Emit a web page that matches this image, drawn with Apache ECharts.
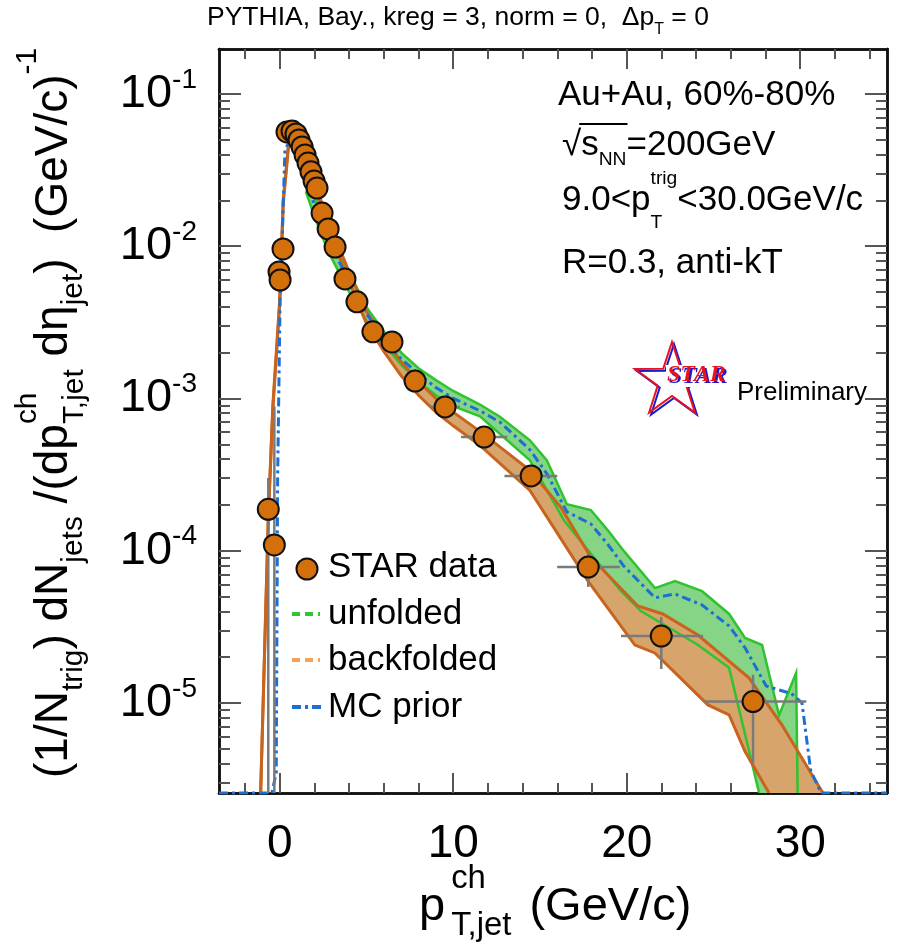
<!DOCTYPE html>
<html><head><meta charset="utf-8">
<script src="https://cdn.jsdelivr.net/npm/echarts@6/dist/echarts.min.js"></script>
<style>html,body{margin:0;padding:0;background:#fff}#c{width:901px;height:948px}</style>
</head><body><div id="c"></div><script>
// ---------------- data ----------------
var YMIN = 2.56e-6, YMAX = 0.1975, XMIN = -3.5, XMAX = 35;
// STAR data points
var starX = [-0.66,-0.31,-0.04,0.02,0.19,0.42,0.71,0.94,1.11,1.29,1.46,1.63,1.80,1.98,2.15,2.44,2.79,3.19,3.76,4.45,5.37,6.47,7.80,9.53,11.78,14.49,17.78,21.99,27.28];
var starY = [1.87e-4,1.09e-4,6.78e-3,6.0e-3,9.6e-3,5.63e-2,5.71e-2,5.46e-2,4.99e-2,4.49e-2,3.98e-2,3.52e-2,3.08e-2,2.68e-2,2.41e-2,1.65e-2,1.30e-2,9.88e-3,6.10e-3,4.31e-3,2.74e-3,2.35e-3,1.30e-3,8.8e-4,5.58e-4,3.10e-4,7.8e-5,2.75e-5,1.02e-5];
// error bars
var errX   = [-0.66,-0.31,7.80,9.53,11.78,14.49,17.78,21.99,27.28];
var errY   = [1.87e-4,1.09e-4,1.30e-3,8.8e-4,5.58e-4,3.10e-4,7.8e-5,2.75e-5,1.02e-5];
var errXlo = [-0.66,-0.31,7.15,8.68,10.45,12.95,15.99,19.67,24.5];
var errXhi = [-0.66,-0.31,8.45,10.38,13.11,16.0,19.6,24.4,30.35];
var errYlo = [YMIN,YMIN,1.30e-3,8.8e-4,5.58e-4,2.9e-4,5.78e-5,1.67e-5,4.03e-6];
var errYhi = [3.0e-4,8.9e-4,1.30e-3,8.8e-4,5.58e-4,3.3e-4,9.66e-5,3.67e-5,1.53e-5];
// backfolded band
var bfUpX = [-1.1,-0.66,-0.4,0,0.2,0.5,0.8,1.2,1.6,2,2.5,3,4,5,6,7,8,9,10,11.54,14.42,16.2,17.93,20.64,22.08,24.1,27.04,28.94,31.31];
var bfUp  = [YMIN,1.66e-4,8.91e-4,4.47e-3,2.0e-2,4.68e-2,5.37e-2,4.68e-2,3.55e-2,2.69e-2,1.82e-2,1.29e-2,6.76e-3,3.72e-3,2.51e-3,1.74e-3,1.29e-3,1.0e-3,8.13e-4,6.08e-4,3.37e-4,1.93e-4,9.06e-5,4.33e-5,3.84e-5,2.79e-5,1.46e-5,7.18e-6,YMIN];
var bfLoX = [-1.1,-0.66,-0.4,0,0.2,0.5,0.8,1.2,1.6,2,2.5,3,4,5,6,7,8,9,10,11.54,14.42,17.77,20.47,21.62,24.68,25.9,26.82,28.2];
var bfLo  = [YMIN,1.58e-4,8.32e-4,4.17e-3,1.9e-2,4.37e-2,5.01e-2,4.37e-2,3.31e-2,2.45e-2,1.62e-2,1.12e-2,5.89e-3,3.09e-3,2.04e-3,1.41e-3,1.05e-3,8.13e-4,6.61e-4,4.92e-4,2.49e-4,6.31e-5,2.4e-5,2.13e-5,9.7e-6,8.34e-6,4.79e-6,YMIN];
// unfolded band
var ufUpX = [1.5,2,2.5,3,4,5,6,7,8,9,10,11.54,12.69,14.42,15.4,16.55,17.93,18.91,19.84,21.63,22.78,24.34,25.9,26.82,27.8,28.78,29.76,29.85];
var ufUp  = [2.82e-2,2.09e-2,1.51e-2,1.12e-2,6.76e-3,3.98e-3,2.75e-3,2.0e-3,1.58e-3,1.32e-3,1.12e-3,9.12e-4,7.59e-4,5.31e-4,3.92e-4,2.02e-4,1.85e-4,1.36e-4,9.93e-5,5.68e-5,6.31e-5,5.42e-5,3.84e-5,2.67e-5,2.4e-5,8.3e-6,1.57e-5,YMIN];
var ufLoX = [1.5,2,2.5,3,4,5,6,7,8,9,10,11.54,14.42,16.39,19.67,20.82,24.11,25.9,27.63];
var ufLo  = [2.29e-2,1.58e-2,1.12e-2,8.32e-3,5.01e-3,3.24e-3,2.29e-3,1.66e-3,1.29e-3,1.05e-3,8.91e-4,7.62e-4,3.92e-4,1.58e-4,5.42e-5,4.01e-5,2.4e-5,1.7e-5,YMIN];
// MC prior
var mcX = [-3.5,-0.45,-0.2,-0.12,0.02,0.13,0.3,0.6,1.0,1.5,2,2.5,3,4,5,6,7,8,9,10,11.54,12.69,14.42,15.4,16.55,17.93,18.91,19.84,21.63,22.78,24.34,25.9,26.82,28.04,29.5,30.1,30.6,31.2,35];
var mcY = [YMIN,YMIN,3.5e-6,3.0e-4,4.4e-3,9.9e-3,4.3e-2,5.0e-2,4.4e-2,2.9e-2,1.85e-2,1.3e-2,9.8e-3,5.9e-3,3.6e-3,2.5e-3,1.82e-3,1.45e-3,1.18e-3,1.0e-3,8.3e-4,7.0e-4,4.6e-4,3.2e-4,1.8e-4,1.5e-4,1.1e-4,7.9e-5,4.9e-5,5.2e-5,4.4e-5,3.2e-5,2.3e-5,1.29e-5,1.15e-5,1.0e-5,3.6e-6,YMIN,YMIN];
// ticks
var xMajor = [0,10,20,30];
var xMinor = [-2,2,4,6,8,12,14,16,18,22,24,26,28,32,34];
var yMajor = [1e-5,1e-4,1e-3,1e-2,1e-1];
var yMinor = [];
for (var e = -6; e <= -1; e++) for (var k = 2; k <= 9; k++) { var v = k * Math.pow(10, e); if (v > YMIN && v < YMAX) yMinor.push(v); }

// ---------------- helpers ----------------
var FONT = '"Liberation Sans", Arial, Helvetica, sans-serif';
var mctx = document.createElement('canvas').getContext('2d');
function tw(t, s) { mctx.font = s + 'px ' + FONT; return mctx.measureText(t).width; }
function tx(t, x, y, s, fill, font) {
  return {type:'text', x:x, y:y, silent:true, style:{text:t, font: font || (s + 'px ' + FONT), fill: fill || '#000',
    align:'left', verticalAlign:'middle', textAlign:'left', textVerticalAlign:'middle'}};
}
// parts: {t} main text, {sup, sub, supDy, subDy, r, before, after}
function layout(parts, S) {
  var x = 0, ch = [];
  parts.forEach(function (p) {
    if (p.t !== undefined) { ch.push(tx(p.t, x, 0, S)); x += tw(p.t, S); }
    else {
      var r = p.r || 0.58, s = S * r, w = 0;
      x += (p.before || 0);
      if (p.sup) { var d = (p.supDy !== undefined ? p.supDy : -0.75); ch.push(tx(p.sup, x, 0.35*S + d*S - 0.35*s, s)); w = Math.max(w, tw(p.sup, s)); }
      if (p.sub) { var d2 = (p.subDy !== undefined ? p.subDy : 0.3); ch.push(tx(p.sub, x, 0.35*S + d2*S - 0.35*s, s)); w = Math.max(w, tw(p.sub, s)); }
      x += w + (p.after || 0);
    }
  });
  return {children: ch, width: x};
}
function grp(parts, S, x, y, rot) {
  var L = layout(parts, S);
  return {type:'group', x:x, y:y, rotation: rot || 0, children: L.children, silent:true};
}

// ---------------- series renderers ----------------
function bandSeries(name, xu, yu, xl, yl, fill, stroke, lw, zFill, zLine) {
  return [{
    type:'custom', name:name, coordinateSystem:'cartesian2d', clip:true, z:zFill, silent:true,
    data:[[xu[0], yu[0]]],
    renderItem:function (params, api) {
      var pts = [], i;
      for (i = 0; i < xu.length; i++) pts.push(api.coord([xu[i], yu[i]]));
      for (i = xl.length - 1; i >= 0; i--) pts.push(api.coord([xl[i], yl[i]]));
      return {type:'polygon', shape:{points:pts}, style:{fill:fill, stroke:null}};
    }
  }, {
    type:'custom', name:name + ' edges', coordinateSystem:'cartesian2d', clip:true, z:zLine, silent:true,
    data:[[xu[0], yu[0]]],
    renderItem:function (params, api) {
      var up = [], lo = [], i;
      for (i = 0; i < xu.length; i++) up.push(api.coord([xu[i], yu[i]]));
      for (i = 0; i < xl.length; i++) lo.push(api.coord([xl[i], yl[i]]));
      return {type:'group', children:[
        {type:'polyline', shape:{points:up}, style:{stroke:stroke, lineWidth:lw, fill:null}},
        {type:'polyline', shape:{points:lo}, style:{stroke:stroke, lineWidth:lw, fill:null}}
      ]};
    }
  }];
}

var errData = errX.map(function (x, i) { return [x, errY[i], errXlo[i], errXhi[i], errYlo[i], errYhi[i]]; });
var starData = starX.map(function (x, i) { return [x, starY[i]]; });
var mcData = mcX.map(function (x, i) { return [x, mcY[i]]; });

var series = [];
series = series.concat(bandSeries('unfolded', ufUpX, ufUp, ufLoX, ufLo, '#86d486', '#2fc42f', 2.5, 2, 5));
series = series.concat(bandSeries('backfolded', bfUpX, bfUp, bfLoX, bfLo, '#d7a56c', '#c8641e', 3, 3, 6));
series.push({
  type:'line', name:'MC prior', data:mcData, symbol:'none', z:7, silent:true,
  lineStyle:{color:'#1d6fd2', width:3, type:[9,4,3,4]}
});
series.push({
  type:'custom', name:'errors', coordinateSystem:'cartesian2d', z:8, silent:true, data:errData,
  renderItem:function (params, api) {
    var c = api.coord([api.value(0), api.value(1)]);
    var xl = api.coord([api.value(2), api.value(1)]), xh = api.coord([api.value(3), api.value(1)]);
    var yl = api.coord([api.value(0), api.value(4)]), yh = api.coord([api.value(0), api.value(5)]);
    var st = {stroke:'#7a7a7a', lineWidth:2.5};
    return {type:'group', children:[
      {type:'line', shape:{x1:xl[0], y1:c[1], x2:xh[0], y2:c[1]}, style:st},
      {type:'line', shape:{x1:c[0], y1:yl[1], x2:c[0], y2:yh[1]}, style:st}
    ]};
  }
});
series.push({
  type:'scatter', name:'STAR data', data:starData, symbol:'circle', symbolSize:21, z:9, silent:true,
  itemStyle:{color:'#d4700c', borderColor:'#111', borderWidth:2, opacity:1}
});

// ---------------- axes ----------------
function xAx(pos, vals, len, labels) {
  return {type:'value', min:XMIN, max:XMAX, position:pos, splitLine:{show:false},
    axisLine:{show:true, onZero:false, lineStyle:{color:'#111', width:2.5}},
    axisTick:{show:true, inside:true, length:len, customValues:vals, lineStyle:{color:'#555', width:2}},
    axisLabel:labels ? {show:true, customValues:vals, fontSize:46, fontFamily:FONT, color:'#000', margin:28} : {show:false}};
}
function yAx(pos, vals, len, labels) {
  return {type:'log', logBase:10, min:YMIN, max:YMAX, position:pos, splitLine:{show:false},
    axisLine:{show:true, onZero:false, lineStyle:{color:'#111', width:2.5}},
    axisTick:{show:true, inside:true, length:len, customValues:vals, lineStyle:{color:'#555', width:2}},
    axisLabel:labels ? {show:true, customValues:vals, margin:22,
      formatter:function (v) { var e = Math.round(Math.log(v) / Math.LN10); return '{b|10}{s|' + e + '}'; },
      rich:{b:{fontSize:47, fontFamily:FONT, color:'#000', lineHeight:56}, s:{fontSize:28, fontFamily:FONT, color:'#000', verticalAlign:'top'}}} : {show:false}};
}

// ---------------- graphics (texts, legend, logo) ----------------
var g = [];
g.push(grp([{t:'PYTHIA, Bay., kreg = 3, norm = 0,  \u0394p'}, {sub:'T', subDy:0.3, r:0.6}, {t:' = 0'}], 26.5, 207, 18));
g.push(grp([{t:'Au+Au, 60%-80%'}], 35, 558, 95));
// sqrt(s_NN)
(function () {
  var S = 35, x0 = 562, y0 = 145;
  var L = layout([{t:'\u221A'}, {t:'s'}, {sub:'NN', subDy:0.25, r:0.55}, {t:'=200GeV'}], S);
  var wR = tw('\u221A', S), wS = tw('s', S), wN = tw('NN', S * 0.55);
  g.push({type:'group', x:x0, y:y0, silent:true, children:L.children.concat([
    {type:'line', shape:{x1:wR - 2, y1:-0.6 * S, x2:wR + wS + wN + 1, y2:-0.6 * S}, style:{stroke:'#000', lineWidth:2}}
  ])});
})();
g.push(grp([{t:'9.0<p'}, {sup:'trig', sub:'T', supDy:-0.78, subDy:0.5, r:0.55}, {t:'<30.0GeV/c'}], 35, 562, 200));
g.push(grp([{t:'R=0.3, anti-kT'}], 35, 562, 263));
// axis titles
g.push(grp([{t:'p'}, {sup:'ch', sub:'T,jet', supDy:-0.7, subDy:0.3, r:0.7, before:6, after:18}, {t:'(GeV/c)'}], 47, 419, 907));
g.push(grp([{t:'(1/N'}, {sub:'trig', subDy:0.3, r:0.65}, {t:') dN'}, {sub:'jets', subDy:0.3, r:0.65}, {t:' /(dp'},
  {sup:'ch', sub:'T,jet', supDy:-0.7, subDy:0.32, r:0.65}, {t:' d\u03B7'}, {sub:'jet', subDy:0.3, r:0.65},
  {t:')  (GeV/c)'}, {sup:'-1', supDy:-0.7, r:0.65}], 46, 54, 778, Math.PI / 2));
// legend
g.push({type:'circle', shape:{cx:307, cy:569, r:10.5}, style:{fill:'#d4700c', stroke:'#111', lineWidth:2}, silent:true});
g.push({type:'line', shape:{x1:292, y1:614, x2:320, y2:614}, style:{stroke:'#33c433', lineWidth:4, lineDash:[8,5]}, silent:true});
g.push({type:'line', shape:{x1:292, y1:660, x2:320, y2:660}, style:{stroke:'#f2a55a', lineWidth:4, lineDash:[8,5]}, silent:true});
g.push({type:'line', shape:{x1:292, y1:707, x2:322, y2:707}, style:{stroke:'#1d6fd2', lineWidth:4, lineDash:[9,4,3,4]}, silent:true});
g.push(tx('STAR data', 328, 567, 35));
g.push(tx('unfolded', 328, 614, 35));
g.push(tx('backfolded', 328, 660, 35));
g.push(tx('MC prior', 328, 707, 35));
// STAR logo
(function () {
  var cx = 672, cy = 381, R = 39, r = 15, pts = [];
  for (var i = 0; i < 10; i++) {
    var a = -Math.PI / 2 + i * Math.PI / 5, rr = (i % 2 === 0) ? R : r;
    pts.push([cx + rr * Math.cos(a), cy + rr * Math.sin(a)]);
  }
  var ptsB = pts.map(function (p) { return [p[0] + 2, p[1] + 2]; });
  g.push({type:'polygon', shape:{points:ptsB}, style:{fill:null, stroke:'#1a1ad0', lineWidth:2}, silent:true});
  g.push({type:'polygon', shape:{points:pts}, style:{fill:null, stroke:'#e8141c', lineWidth:2}, silent:true});
  var f = 'italic bold 24px "Liberation Serif", "DejaVu Serif", serif';
  g.push({type:'rect', shape:{x:666, y:365, width:66, height:22}, style:{fill:'#fff'}, silent:true});
  g.push(tx('STAR', 669, 377, 24, '#1a1ad0', f));
  g.push(tx('STAR', 667, 375, 24, '#e8141c', f));
})();
g.push(tx('Preliminary', 737, 393, 26));

var chart = echarts.init(document.getElementById('c'), null, {renderer:'canvas'});
chart.setOption({
  animation:false,
  backgroundColor:'#fff',
  grid:{left:219, right:14, top:49, bottom:155, containLabel:false, outerBoundsMode:'none'},
  xAxis:[xAx('bottom', xMajor, 20, true), xAx('bottom', xMinor, 10, false), xAx('top', xMajor, 20, false), xAx('top', xMinor, 10, false)],
  yAxis:[yAx('left', yMajor, 22, true), yAx('left', yMinor, 11, false), yAx('right', yMajor, 22, false), yAx('right', yMinor, 11, false)],
  series:series,
  graphic:g
});
</script></body></html>
